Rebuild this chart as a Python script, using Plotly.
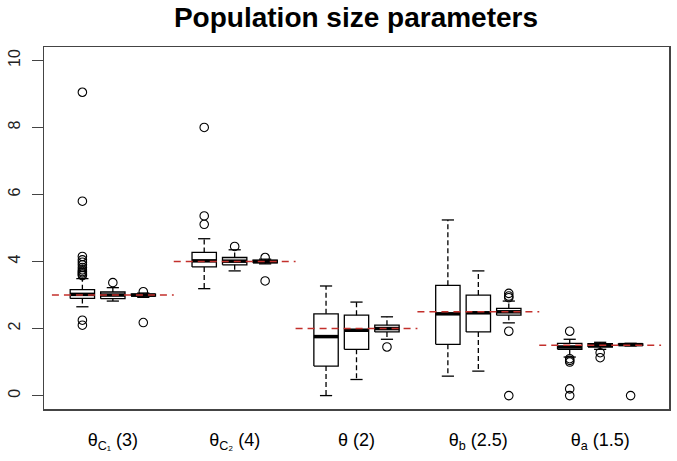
import plotly.graph_objects as go

# ---- data ----
group_labels = ["θ<sub>C₁</sub> (3)", "θ<sub>C₂</sub> (4)", "θ (2)", "θ<sub>b</sub> (2.5)", "θ<sub>a</sub> (1.5)"]
true_values = [3, 4, 2, 2.5, 1.5]
boxes_per_group = 3

lower_whisker = [2.65, 2.82, 2.93, 3.19, 3.72, 3.93, 0.00, 0.48, 1.68, 0.58, 0.73, 2.17, 1.15, 1.38, 1.48]
q1 =            [2.90, 2.89, 2.97, 3.84, 3.90, 3.96, 0.88, 1.38, 1.90, 1.53, 1.90, 2.40, 1.38, 1.45, 1.50]
median =        [3.02, 3.00, 3.00, 4.02, 4.01, 4.00, 1.76, 1.95, 2.00, 2.44, 2.47, 2.50, 1.45, 1.50, 1.52]
q3 =            [3.16, 3.09, 3.03, 4.27, 4.12, 4.04, 2.44, 2.40, 2.10, 3.29, 3.00, 2.60, 1.56, 1.55, 1.54]
upper_whisker = [3.49, 3.22, 3.06, 4.68, 4.35, 4.07, 3.27, 2.79, 2.35, 5.24, 3.72, 2.82, 1.68, 1.59, 1.56]
outliers = [
    [2.10, 2.25, 3.58, 3.62, 3.66, 3.70, 3.75, 3.82, 3.90, 3.98, 4.05, 4.15, 5.80, 9.05],
    [3.37],
    [2.18, 3.10],
    [5.11, 5.36, 8.00],
    [4.45],
    [3.42, 4.12],
    [],
    [],
    [1.45],
    [],
    [],
    [0.00, 1.92, 2.92, 2.97, 3.05],
    [0.00, 0.20, 1.00, 1.05, 1.10, 1.92],
    [1.13, 1.28],
    [0.00],
]

# ---- layout of boxes (positions like R's at=) ----
positions = []
for g in range(len(group_labels)):
    for k in range(boxes_per_group):
        positions.append(1 + g * (boxes_per_group + 1) + k)
group_centers = [1 + g * (boxes_per_group + 1) + (boxes_per_group - 1) / 2 for g in range(len(group_labels))]

half_w = 0.4     # boxwex 0.8
cap_w = 0.2      # staplewex 0.5

bx, by, mx, my, wx, wy, cx, cy, ox, oy = [], [], [], [], [], [], [], [], [], []
for i, p in enumerate(positions):
    bx += [p - half_w, p + half_w, p + half_w, p - half_w, p - half_w, None]
    by += [q1[i], q1[i], q3[i], q3[i], q1[i], None]
    mx += [p - half_w, p + half_w, None]
    my += [median[i], median[i], None]
    wx += [p, p, None, p, p, None]
    wy += [q3[i], upper_whisker[i], None, q1[i], lower_whisker[i], None]
    cx += [p - cap_w, p + cap_w, None, p - cap_w, p + cap_w, None]
    cy += [upper_whisker[i], upper_whisker[i], None, lower_whisker[i], lower_whisker[i], None]
    for v in outliers[i]:
        ox.append(p)
        oy.append(v)

rx, ry = [], []
for c, t in zip(group_centers, true_values):
    rx += [c - 2, c + 2, None]
    ry += [t, t, None]

fig = go.Figure()
fig.add_trace(go.Scatter(x=wx, y=wy, mode="lines", line=dict(color="black", width=1.3, dash="5px,3px"), hoverinfo="skip"))
fig.add_trace(go.Scatter(x=cx, y=cy, mode="lines", line=dict(color="black", width=1.3), hoverinfo="skip"))
fig.add_trace(go.Scatter(x=bx, y=by, mode="lines", line=dict(color="black", width=1.3), hoverinfo="skip"))
fig.add_trace(go.Scatter(x=mx, y=my, mode="lines", line=dict(color="black", width=3.5), hoverinfo="skip"))
fig.add_trace(go.Scatter(x=ox, y=oy, mode="markers",
                         marker=dict(symbol="circle-open", size=8.5, color="black", line=dict(width=1.1)),
                         hoverinfo="skip"))
fig.add_trace(go.Scatter(x=rx, y=ry, mode="lines", line=dict(color="#C3302C", width=1.6, dash="7px,5px"), hoverinfo="skip"))

font_family = "Liberation Sans, Arial, sans-serif"
fig.update_layout(
    width=677, height=461,
    margin=dict(l=44, r=8, t=47, b=52, autoexpand=False),
    paper_bgcolor="white", plot_bgcolor="white",
    showlegend=False,
    font=dict(family=font_family, color="black"),
    title=dict(text="<b>Population size parameters</b>", x=356 / 677, xanchor="center",
               y=1 - 17 / 461, yanchor="middle", yref="container",
               font=dict(size=28, family=font_family, color="black")),
)
fig.update_xaxes(
    range=[0.5 - 0.76, 19.5 + 0.76],
    tickmode="array", tickvals=group_centers, ticktext=group_labels,
    ticks="", showgrid=False, zeroline=False, automargin=False,
    showline=True, mirror=True, linecolor="#444444", linewidth=1.5,
    tickfont=dict(size=18, family=font_family, color="black"),
    ticklabelstandoff=14,
)
fig.update_yaxes(
    range=[-0.4, 10.4],
    tickmode="array", tickvals=[0, 2, 4, 6, 8, 10], ticktext=["0", "2", "4", "6", "8", "10"],
    ticks="outside", ticklen=11, tickwidth=1.5, tickcolor="#444444",
    tickangle=-90, showgrid=False, zeroline=False, automargin=False,
    showline=True, mirror=True, linecolor="#444444", linewidth=1.5,
    tickfont=dict(size=16, family=font_family, color="#222222"),
    ticklabelstandoff=5,
)

fig.write_html("out.html", config={"displayModeBar": False, "staticPlot": True},
               post_script="document.body.style.margin='0px';")
